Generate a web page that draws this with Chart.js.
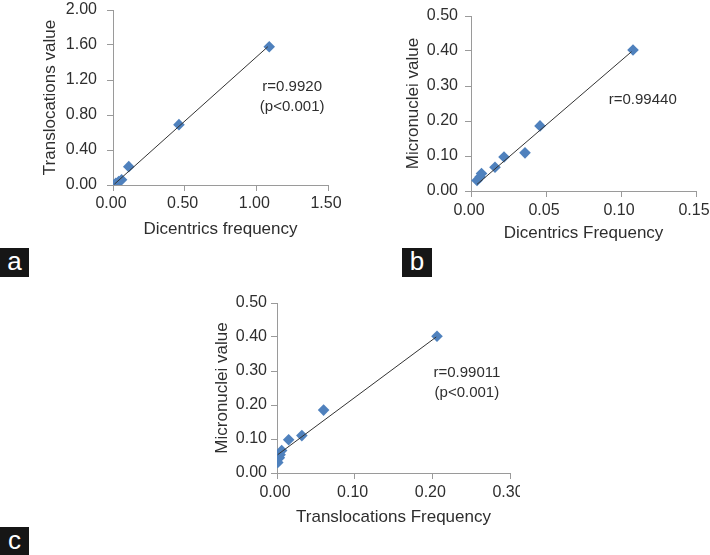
<!DOCTYPE html>
<html>
<head>
<meta charset="utf-8">
<script src="https://cdn.jsdelivr.net/npm/chart.js@4.4.1/dist/chart.umd.min.js"></script>
<style>
  html, body { margin: 0; padding: 0; background: #fff; overflow: hidden; }
  body { width: 710px; height: 555px; position: relative; }
  .panel { position: absolute; overflow: hidden; }
  .tag {
    position: absolute; background: #161616; color: #fff;
    font: 26px 'Liberation Sans', Arial, sans-serif;
    text-align: center; line-height: 27px;
  }
</style>
</head>
<body>

<div class="panel" style="left:0; top:0; width:360px; height:245px;">
  <canvas id="chartA" width="360" height="245"></canvas>
</div>
<div class="panel" style="left:360px; top:0; width:350px; height:245px;">
  <canvas id="chartB" width="360" height="245"></canvas>
</div>
<div class="panel" style="left:180px; top:280px; width:340px; height:275px;">
  <canvas id="chartC" width="360" height="275"></canvas>
</div>

<div class="tag" style="left:0; top:248px; width:29px; height:29px;">a</div>
<div class="tag" style="left:402px; top:248px; width:30px; height:29px;">b</div>
<div class="tag" style="left:0; top:527px; width:29px; height:28px;">c</div>

<script>
// Panel a: dicentrics frequency vs translocations value
const dicFreqA = [0.00, 0.02, 0.04, 0.06, 0.11, 0.46, 1.09];
const transValA = [0.00, 0.02, 0.04, 0.06, 0.21, 0.69, 1.58];
const trendXA = [0.01, 1.08];
const trendYA = [0.01, 1.58];
const notesA = ['r=0.9920', '(p<0.001)'];

// Panel b: dicentrics frequency vs micronuclei value
const dicFreqB = [0.004, 0.006, 0.007, 0.016, 0.022, 0.036, 0.046, 0.108];
const micValB = [0.030, 0.040, 0.050, 0.068, 0.097, 0.109, 0.186, 0.403];
const trendXB = [0.004, 0.107];
const trendYB = [0.019, 0.398];
const notesB = ['r=0.99440'];

// Panel c: translocations frequency vs micronuclei value
const transFreqC = [0.001, 0.003, 0.004, 0.006, 0.015, 0.032, 0.060, 0.206];
const micValC = [0.031, 0.045, 0.054, 0.066, 0.098, 0.110, 0.185, 0.402];
const trendXC = [0.001, 0.205];
const trendYC = [0.054, 0.400];
const notesC = ['r=0.99011', '(p<0.001)'];

const textColor = '#2e2e2e';
const axisColor = '#9a9a9a';
const markerColor = '#4f81bd';
Chart.defaults.font.family = "'Liberation Sans', Arial, sans-serif";
Chart.defaults.color = textColor;

function toPoints(xs, ys) {
  return xs.map((x, i) => ({ x: x, y: ys[i] }));
}

// draws the r / p text at a spot given in data units
const notePlugin = {
  id: 'notes',
  afterDatasetsDraw(chart, args, opts) {
    const ctx = chart.ctx;
    const px = chart.scales.x.getPixelForValue(opts.x);
    const py = chart.scales.y.getPixelForValue(opts.y);
    ctx.save();
    ctx.font = "15px 'Liberation Sans', Arial, sans-serif";
    ctx.fillStyle = textColor;
    ctx.textAlign = 'center';
    ctx.textBaseline = 'middle';
    opts.lines.forEach((line, i) => ctx.fillText(line, px, py + i * 19.5));
    ctx.restore();
  }
};

function makeScatter(id, cfg) {
  new Chart(document.getElementById(id), {
    type: 'scatter',
    data: {
      datasets: [{
        data: toPoints(cfg.trendX, cfg.trendY),
        showLine: true,
        borderColor: '#333333',
        borderWidth: 1,
        pointRadius: 0
      }, {
        data: toPoints(cfg.xs, cfg.ys),
        pointStyle: 'rectRot',
        pointRadius: 5.8,
        pointBackgroundColor: markerColor,
        pointBorderColor: markerColor,
        pointBorderWidth: 0
      }]
    },
    options: {
      responsive: false,
      animation: false,
      layout: { padding: { left: 0, top: cfg.top, right: cfg.right, bottom: 0 } },
      plugins: {
        legend: { display: false },
        tooltip: { enabled: false },
        notes: cfg.notes
      },
      scales: {
        x: {
          type: 'linear',
          min: cfg.xMin, max: cfg.xMax,
          afterFit: s => { s.height = cfg.xHeight; s.paddingLeft = 0; s.paddingRight = 0; },
          border: { display: true, color: axisColor, width: 1 },
          grid: { drawOnChartArea: false, drawTicks: true, tickLength: 6, color: axisColor },
          ticks: {
            stepSize: cfg.xStep, padding: cfg.xTickPad, labelOffset: -2,
            font: { size: 16 }, color: textColor, maxRotation: 0,
            callback: v => v.toFixed(2)
          },
          title: {
            display: true, text: cfg.xTitle, color: textColor,
            font: { size: 17 }, padding: { top: 0, bottom: cfg.xTitlePad }
          }
        },
        y: {
          type: 'linear',
          min: cfg.yMin, max: cfg.yMax,
          afterFit: s => { s.width = cfg.yWidth; s.paddingTop = 0; s.paddingBottom = 0; },
          border: { display: true, color: axisColor, width: 1 },
          grid: { drawOnChartArea: false, drawTicks: true, tickLength: 6, color: axisColor },
          ticks: {
            stepSize: cfg.yStep, padding: cfg.yTickPad,
            font: { size: 16 }, color: textColor,
            callback: v => v.toFixed(2)
          },
          title: {
            display: true, text: cfg.yTitle, color: textColor,
            font: { size: 17 }, padding: { top: cfg.yTitlePad, bottom: 0 }
          }
        }
      }
    },
    plugins: [notePlugin]
  });
}

makeScatter('chartA', {
  xs: dicFreqA, ys: transValA, trendX: trendXA, trendY: trendYA,
  xMin: 0, xMax: 1.5, xStep: 0.5, yMin: 0, yMax: 2, yStep: 0.4,
  xTitle: 'Dicentrics frequency', yTitle: 'Translocations value',
  top: 10, right: 32, yWidth: 113, xHeight: 60,
  yTickPad: 10, xTickPad: 3, yTitlePad: 40, xTitlePad: 5,
  notes: { lines: notesA, x: 1.25, y: 1.12 }
});

makeScatter('chartB', {
  xs: dicFreqB, ys: micValB, trendX: trendXB, trendY: trendYB,
  xMin: 0, xMax: 0.15, xStep: 0.05, yMin: 0, yMax: 0.5, yStep: 0.1,
  xTitle: 'Dicentrics Frequency', yTitle: 'Micronuclei value',
  top: 16, right: 24, yWidth: 111, xHeight: 54,
  yTickPad: 7, xTickPad: 4, yTitlePad: 43, xTitlePad: 1,
  notes: { lines: notesB, x: 0.1145, y: 0.26 }
});

makeScatter('chartC', {
  xs: transFreqC, ys: micValC, trendX: trendXC, trendY: trendYC,
  xMin: 0, xMax: 0.3, xStep: 0.1, yMin: 0, yMax: 0.5, yStep: 0.1,
  xTitle: 'Translocations Frequency', yTitle: 'Micronuclei value',
  top: 23, right: 30, yWidth: 97, xHeight: 82,
  yTickPad: 4, xTickPad: 4, yTitlePad: 32, xTitlePad: 27,
  notes: { lines: notesC, x: 0.2445, y: 0.294 }
});
</script>
</body>
</html>
